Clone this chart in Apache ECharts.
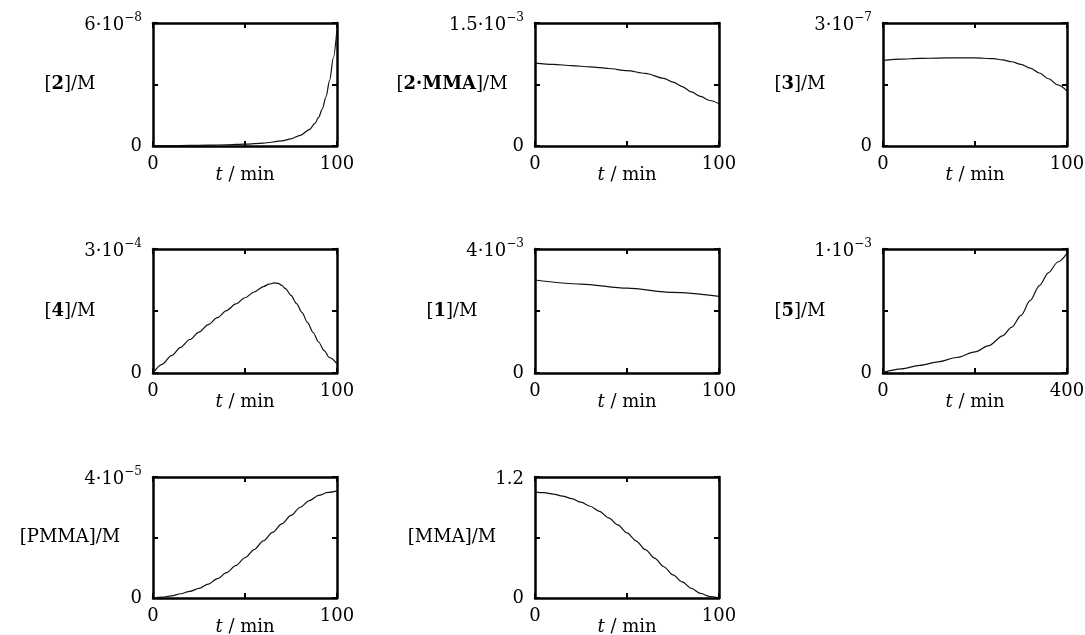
<!DOCTYPE html>
<html>
<head>
<meta charset="utf-8">
<script src="https://cdn.jsdelivr.net/npm/echarts@6/dist/echarts.min.js"></script>
<style>
html,body{margin:0;padding:0;background:#fff;}
#chart{width:1085px;height:635px;}
</style>
</head>
<body>
<div id="chart"></div>
<script>
// ---- data ----
const t_2 = [0,10,20,30,40,50,60,70,75,80,85,88,90,92,94,96,98,100];
const c_2 = [2e-10,2e-10,3e-10,4e-10,6e-10,9e-10,1.4e-9,2.5e-9,3.5e-9,5.2e-9,8e-9,1.1e-8,1.4e-8,1.8e-8,2.4e-8,3.2e-8,4.3e-8,5.7e-8];

const t_2MMA = [0,10,20,30,40,50,60,70,75,80,85,90,95,100];
const c_2MMA = [1.01e-3,9.95e-4,9.8e-4,9.65e-4,9.45e-4,9.2e-4,8.85e-4,8.25e-4,7.8e-4,7.25e-4,6.6e-4,6.05e-4,5.55e-4,5.15e-4];

const t_3 = [0,10,20,30,40,50,60,65,70,75,80,85,90,95,100];
const c_3 = [2.09e-7,2.12e-7,2.135e-7,2.145e-7,2.15e-7,2.15e-7,2.13e-7,2.10e-7,2.055e-7,1.99e-7,1.9e-7,1.78e-7,1.64e-7,1.49e-7,1.34e-7];

const t_4 = [0,5,10,15,20,25,30,35,40,45,50,55,60,63,66,68,70,72,75,78,81,84,87,90,93,96,100];
const c_4 = [0,2.1e-5,4.2e-5,6.2e-5,8.1e-5,9.9e-5,1.17e-4,1.34e-4,1.51e-4,1.67e-4,1.82e-4,1.96e-4,2.09e-4,2.15e-4,2.18e-4,2.17e-4,2.12e-4,2.04e-4,1.88e-4,1.68e-4,1.46e-4,1.22e-4,9.8e-5,7.5e-5,5.4e-5,3.7e-5,2.2e-5];

const t_1 = [0,25,50,75,100];
const c_1 = [3.0e-3,2.87e-3,2.735e-3,2.6e-3,2.47e-3];

const t_5 = [0,40,80,120,160,200,230,260,280,300,320,340,360,380,400];
const c_5 = [5e-6,3.4e-5,6.2e-5,9.0e-5,1.25e-4,1.7e-4,2.2e-4,3.0e-4,3.7e-4,4.65e-4,5.85e-4,7.05e-4,8.1e-4,8.95e-4,9.65e-4];

const t_PMMA = [0,5,10,15,20,25,30,35,40,45,50,55,60,65,70,75,80,85,90,95,100];
const c_PMMA = [0,3e-7,7e-7,1.4e-6,2.2e-6,3.2e-6,4.6e-6,6.4e-6,8.4e-6,1.07e-5,1.33e-5,1.6e-5,1.89e-5,2.17e-5,2.45e-5,2.73e-5,3.0e-5,3.22e-5,3.39e-5,3.49e-5,3.54e-5];

const t_MMA = [0,5,10,15,20,25,30,35,40,45,50,55,60,65,70,75,80,85,90,95,100];
const c_MMA = [1.05,1.045,1.03,1.01,0.985,0.95,0.91,0.86,0.795,0.725,0.645,0.565,0.48,0.395,0.31,0.23,0.16,0.095,0.045,0.015,0.004];

// y-axis names, maxima and max tick labels
const yNames   = ['[{bd|2}]/M','[{bd|2·MMA}]/M','[{bd|3}]/M','[{bd|4}]/M','[{bd|1}]/M','[{bd|5}]/M','[PMMA]/M','[MMA]/M'];
const yMax     = [6e-8, 1.5e-3, 3e-7, 3e-4, 4e-3, 1e-3, 4e-5, 1.2];
const yMaxText = ['{m|6·10}{s|−8}','{m|1.5·10}{s|−3}','{m|3·10}{s|−7}','{m|3·10}{s|−4}','{m|4·10}{s|−3}','{m|1·10}{s|−3}','{m|4·10}{s|−5}','{m|1.2}'];
const xMax     = [100,100,100,100,100,400,100,100];
const xMaxText = ['100','100','100','100','100','400','100','100'];
const series_t = [t_2,t_2MMA,t_3,t_4,t_1,t_5,t_PMMA,t_MMA];
const series_c = [c_2,c_2MMA,c_3,c_4,c_1,c_5,c_PMMA,c_MMA];

// ---- layout ----
const FONT = 'DejaVu Serif';
const FS = 18;
const colLeft = [153, 535, 883];
const colW = 184;
const rowTop = [23, 249, 477];
const rowH = [123, 124, 121];

const grids = [], xAxes = [], yAxes = [], series = [];
const lineCol = '#000';
const frameW = 2.5;

for (let i = 0; i < 8; i++) {
  const r = Math.floor(i / 3), c = i % 3;
  grids.push({left: colLeft[c], top: rowTop[r], width: colW, height: rowH[r], containLabel: false, outerBoundsMode: 'none'});
  const xm = xMax[i], ym = yMax[i];
  const tickStyle = {show: true, inside: true, length: 5, lineStyle: {color: lineCol, width: 2}};
  // bottom x
  xAxes.push({
    type: 'value', gridIndex: i, position: 'bottom', min: 0, max: xm, interval: xm / 2,
    axisLine: {show: true, onZero: false, lineStyle: {color: lineCol, width: frameW}},
    axisTick: tickStyle, splitLine: {show: false},
    axisLabel: {
      show: true, margin: 9, color: '#000', fontFamily: FONT, fontSize: FS,
      showMinLabel: true, showMaxLabel: true, hideOverlap: false,
      formatter: function (v) { if (v === 0) return '0'; if (Math.abs(v - xm) < xm * 1e-6) return xMaxText[i]; return ''; }
    },
    name: '{i|t} / min', nameLocation: 'middle', nameGap: 20, nameMoveOverlap: false,
    nameTextStyle: {color: '#000', fontFamily: FONT, fontSize: FS, verticalAlign: 'top',
      rich: {i: {fontStyle: 'italic', fontFamily: FONT, fontSize: FS, color: '#000'}}}
  });
  // top x
  xAxes.push({
    type: 'value', gridIndex: i, position: 'top', min: 0, max: xm, interval: xm / 2,
    axisLine: {show: true, onZero: false, lineStyle: {color: lineCol, width: frameW}},
    axisTick: tickStyle, splitLine: {show: false}, axisLabel: {show: false}
  });
  // left y
  yAxes.push({
    type: 'value', gridIndex: i, position: 'left', min: 0, max: ym, interval: ym / 2,
    axisLine: {show: true, onZero: false, lineStyle: {color: lineCol, width: frameW}},
    axisTick: tickStyle, splitLine: {show: false},
    axisLabel: {
      show: true, margin: 11, color: '#000', fontFamily: FONT, fontSize: FS,
      showMinLabel: true, showMaxLabel: true, hideOverlap: false,
      formatter: function (v) { if (v === 0) return '0'; if (Math.abs(v - ym) < ym * 1e-6) return yMaxText[i]; return ''; },
      rich: {
        m: {fontFamily: FONT, fontSize: FS, color: '#000', lineHeight: 22, verticalAlign: 'bottom'},
        s: {fontFamily: FONT, fontSize: 12, color: '#000', lineHeight: 14, verticalAlign: 'top'}
      }
    },
    name: yNames[i], nameLocation: 'middle', nameRotate: 0, nameGap: 83, nameMoveOverlap: false,
    nameTextStyle: {color: '#000', fontFamily: FONT, fontSize: FS, align: 'center', verticalAlign: 'middle',
      rich: {bd: {fontWeight: 'bold', fontFamily: FONT, fontSize: FS, color: '#000'}}}
  });
  // right y
  yAxes.push({
    type: 'value', gridIndex: i, position: 'right', min: 0, max: ym, interval: ym / 2,
    axisLine: {show: true, onZero: false, lineStyle: {color: lineCol, width: frameW}},
    axisTick: tickStyle, splitLine: {show: false}, axisLabel: {show: false}
  });
  series.push({
    type: 'line', xAxisIndex: 2 * i, yAxisIndex: 2 * i, showSymbol: false, symbol: 'none',
    smooth: 0.3, smoothMonotone: 'x', animation: false,
    lineStyle: {color: '#111', width: 1.2},
    data: series_t[i].map((t, k) => [t, series_c[i][k]])
  });
}

const chart = echarts.init(document.getElementById('chart'), null, {renderer: 'canvas'});
chart.setOption({
  animation: false,
  backgroundColor: '#fff',
  grid: grids, xAxis: xAxes, yAxis: yAxes, series: series
});
</script>
</body>
</html>
